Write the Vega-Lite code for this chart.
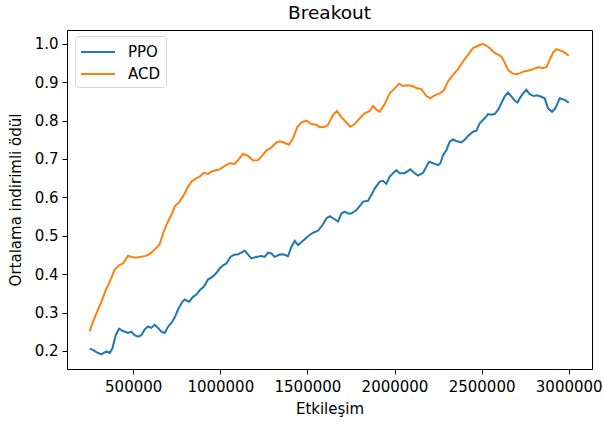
{
  "$schema": "https://vega.github.io/schema/vega-lite/v6.json",
  "width": 525,
  "height": 339,
  "autosize": "none",
  "padding": {"left": 67, "top": 30, "right": 11, "bottom": 56},
  "background": "white",
  "title": {"text": "Breakout", "fontSize": 18.5, "font": "DejaVu Sans", "fontWeight": "normal", "color": "black", "offset": 8},
  "config": {
    "font": "DejaVu Sans",
    "view": {"stroke": "black", "strokeWidth": 1},
    "axis": {"domainColor": "black", "tickColor": "black", "labelColor": "black", "titleColor": "black", "labelFontSize": 15, "titleFontSize": 15, "titleFontWeight": "normal", "tickSize": 5, "grid": false}
  },
  "datasets": {
    "series": [
      {"step": 250000, "reward": 0.206, "method": "PPO"},
      {"step": 269000, "reward": 0.203, "method": "PPO"},
      {"step": 288500, "reward": 0.197, "method": "PPO"},
      {"step": 317300, "reward": 0.191, "method": "PPO"},
      {"step": 346000, "reward": 0.199, "method": "PPO"},
      {"step": 365100, "reward": 0.195, "method": "PPO"},
      {"step": 380400, "reward": 0.206, "method": "PPO"},
      {"step": 399500, "reward": 0.241, "method": "PPO"},
      {"step": 418700, "reward": 0.258, "method": "PPO"},
      {"step": 441600, "reward": 0.252, "method": "PPO"},
      {"step": 470300, "reward": 0.247, "method": "PPO"},
      {"step": 489500, "reward": 0.25, "method": "PPO"},
      {"step": 508600, "reward": 0.241, "method": "PPO"},
      {"step": 527700, "reward": 0.237, "method": "PPO"},
      {"step": 546900, "reward": 0.241, "method": "PPO"},
      {"step": 566000, "reward": 0.256, "method": "PPO"},
      {"step": 585200, "reward": 0.264, "method": "PPO"},
      {"step": 604300, "reward": 0.26, "method": "PPO"},
      {"step": 623400, "reward": 0.268, "method": "PPO"},
      {"step": 642600, "reward": 0.26, "method": "PPO"},
      {"step": 661700, "reward": 0.25, "method": "PPO"},
      {"step": 680800, "reward": 0.247, "method": "PPO"},
      {"step": 700000, "reward": 0.263, "method": "PPO"},
      {"step": 719100, "reward": 0.273, "method": "PPO"},
      {"step": 738200, "reward": 0.287, "method": "PPO"},
      {"step": 757400, "reward": 0.308, "method": "PPO"},
      {"step": 782200, "reward": 0.328, "method": "PPO"},
      {"step": 795600, "reward": 0.334, "method": "PPO"},
      {"step": 820500, "reward": 0.328, "method": "PPO"},
      {"step": 843500, "reward": 0.341, "method": "PPO"},
      {"step": 862600, "reward": 0.347, "method": "PPO"},
      {"step": 881700, "reward": 0.358, "method": "PPO"},
      {"step": 904700, "reward": 0.367, "method": "PPO"},
      {"step": 929600, "reward": 0.386, "method": "PPO"},
      {"step": 954400, "reward": 0.393, "method": "PPO"},
      {"step": 977400, "reward": 0.403, "method": "PPO"},
      {"step": 996600, "reward": 0.415, "method": "PPO"},
      {"step": 1015700, "reward": 0.423, "method": "PPO"},
      {"step": 1034800, "reward": 0.428, "method": "PPO"},
      {"step": 1057800, "reward": 0.445, "method": "PPO"},
      {"step": 1076900, "reward": 0.45, "method": "PPO"},
      {"step": 1101800, "reward": 0.452, "method": "PPO"},
      {"step": 1120900, "reward": 0.456, "method": "PPO"},
      {"step": 1140000, "reward": 0.461, "method": "PPO"},
      {"step": 1153500, "reward": 0.454, "method": "PPO"},
      {"step": 1178300, "reward": 0.441, "method": "PPO"},
      {"step": 1207000, "reward": 0.445, "method": "PPO"},
      {"step": 1235700, "reward": 0.447, "method": "PPO"},
      {"step": 1254900, "reward": 0.445, "method": "PPO"},
      {"step": 1274000, "reward": 0.456, "method": "PPO"},
      {"step": 1293100, "reward": 0.454, "method": "PPO"},
      {"step": 1312300, "reward": 0.445, "method": "PPO"},
      {"step": 1341000, "reward": 0.451, "method": "PPO"},
      {"step": 1360100, "reward": 0.452, "method": "PPO"},
      {"step": 1388800, "reward": 0.447, "method": "PPO"},
      {"step": 1407900, "reward": 0.471, "method": "PPO"},
      {"step": 1427100, "reward": 0.487, "method": "PPO"},
      {"step": 1446200, "reward": 0.476, "method": "PPO"},
      {"step": 1474900, "reward": 0.487, "method": "PPO"},
      {"step": 1503600, "reward": 0.499, "method": "PPO"},
      {"step": 1532300, "reward": 0.508, "method": "PPO"},
      {"step": 1561000, "reward": 0.513, "method": "PPO"},
      {"step": 1589700, "reward": 0.53, "method": "PPO"},
      {"step": 1608900, "reward": 0.545, "method": "PPO"},
      {"step": 1628000, "reward": 0.551, "method": "PPO"},
      {"step": 1656700, "reward": 0.543, "method": "PPO"},
      {"step": 1675800, "reward": 0.537, "method": "PPO"},
      {"step": 1695000, "reward": 0.558, "method": "PPO"},
      {"step": 1714100, "reward": 0.563, "method": "PPO"},
      {"step": 1733200, "reward": 0.558, "method": "PPO"},
      {"step": 1752400, "reward": 0.558, "method": "PPO"},
      {"step": 1781100, "reward": 0.567, "method": "PPO"},
      {"step": 1800200, "reward": 0.577, "method": "PPO"},
      {"step": 1819400, "reward": 0.589, "method": "PPO"},
      {"step": 1848100, "reward": 0.591, "method": "PPO"},
      {"step": 1867200, "reward": 0.606, "method": "PPO"},
      {"step": 1886300, "reward": 0.623, "method": "PPO"},
      {"step": 1915000, "reward": 0.641, "method": "PPO"},
      {"step": 1934200, "reward": 0.643, "method": "PPO"},
      {"step": 1953300, "reward": 0.635, "method": "PPO"},
      {"step": 1972400, "reward": 0.654, "method": "PPO"},
      {"step": 1991600, "reward": 0.663, "method": "PPO"},
      {"step": 2010700, "reward": 0.671, "method": "PPO"},
      {"step": 2029800, "reward": 0.663, "method": "PPO"},
      {"step": 2058500, "reward": 0.663, "method": "PPO"},
      {"step": 2071900, "reward": 0.667, "method": "PPO"},
      {"step": 2091100, "reward": 0.673, "method": "PPO"},
      {"step": 2115900, "reward": 0.663, "method": "PPO"},
      {"step": 2135100, "reward": 0.657, "method": "PPO"},
      {"step": 2163800, "reward": 0.664, "method": "PPO"},
      {"step": 2182900, "reward": 0.68, "method": "PPO"},
      {"step": 2198200, "reward": 0.693, "method": "PPO"},
      {"step": 2221200, "reward": 0.689, "method": "PPO"},
      {"step": 2249900, "reward": 0.684, "method": "PPO"},
      {"step": 2263300, "reward": 0.689, "method": "PPO"},
      {"step": 2278600, "reward": 0.71, "method": "PPO"},
      {"step": 2297700, "reward": 0.723, "method": "PPO"},
      {"step": 2316900, "reward": 0.745, "method": "PPO"},
      {"step": 2336000, "reward": 0.751, "method": "PPO"},
      {"step": 2355100, "reward": 0.747, "method": "PPO"},
      {"step": 2383800, "reward": 0.743, "method": "PPO"},
      {"step": 2403000, "reward": 0.75, "method": "PPO"},
      {"step": 2422100, "reward": 0.76, "method": "PPO"},
      {"step": 2450800, "reward": 0.771, "method": "PPO"},
      {"step": 2469900, "reward": 0.774, "method": "PPO"},
      {"step": 2489100, "reward": 0.793, "method": "PPO"},
      {"step": 2517800, "reward": 0.806, "method": "PPO"},
      {"step": 2536900, "reward": 0.817, "method": "PPO"},
      {"step": 2556000, "reward": 0.815, "method": "PPO"},
      {"step": 2575200, "reward": 0.817, "method": "PPO"},
      {"step": 2594300, "reward": 0.828, "method": "PPO"},
      {"step": 2613400, "reward": 0.845, "method": "PPO"},
      {"step": 2632600, "reward": 0.863, "method": "PPO"},
      {"step": 2651700, "reward": 0.873, "method": "PPO"},
      {"step": 2670900, "reward": 0.863, "method": "PPO"},
      {"step": 2690000, "reward": 0.852, "method": "PPO"},
      {"step": 2705300, "reward": 0.847, "method": "PPO"},
      {"step": 2718700, "reward": 0.858, "method": "PPO"},
      {"step": 2737800, "reward": 0.871, "method": "PPO"},
      {"step": 2757000, "reward": 0.88, "method": "PPO"},
      {"step": 2776100, "reward": 0.869, "method": "PPO"},
      {"step": 2799100, "reward": 0.864, "method": "PPO"},
      {"step": 2818200, "reward": 0.866, "method": "PPO"},
      {"step": 2843100, "reward": 0.862, "method": "PPO"},
      {"step": 2862200, "reward": 0.858, "method": "PPO"},
      {"step": 2881400, "reward": 0.832, "method": "PPO"},
      {"step": 2904300, "reward": 0.823, "method": "PPO"},
      {"step": 2923500, "reward": 0.832, "method": "PPO"},
      {"step": 2948300, "reward": 0.858, "method": "PPO"},
      {"step": 2977000, "reward": 0.854, "method": "PPO"},
      {"step": 3000000, "reward": 0.847, "method": "PPO"},
      {"step": 250000, "reward": 0.251, "method": "ACD"},
      {"step": 269400, "reward": 0.276, "method": "ACD"},
      {"step": 292400, "reward": 0.302, "method": "ACD"},
      {"step": 317300, "reward": 0.328, "method": "ACD"},
      {"step": 342100, "reward": 0.358, "method": "ACD"},
      {"step": 365100, "reward": 0.38, "method": "ACD"},
      {"step": 393800, "reward": 0.412, "method": "ACD"},
      {"step": 418700, "reward": 0.423, "method": "ACD"},
      {"step": 441600, "reward": 0.428, "method": "ACD"},
      {"step": 470300, "reward": 0.448, "method": "ACD"},
      {"step": 489500, "reward": 0.445, "method": "ACD"},
      {"step": 518200, "reward": 0.443, "method": "ACD"},
      {"step": 537300, "reward": 0.445, "method": "ACD"},
      {"step": 566000, "reward": 0.447, "method": "ACD"},
      {"step": 585200, "reward": 0.45, "method": "ACD"},
      {"step": 604300, "reward": 0.456, "method": "ACD"},
      {"step": 623400, "reward": 0.464, "method": "ACD"},
      {"step": 652100, "reward": 0.478, "method": "ACD"},
      {"step": 671300, "reward": 0.506, "method": "ACD"},
      {"step": 694200, "reward": 0.532, "method": "ACD"},
      {"step": 719100, "reward": 0.554, "method": "ACD"},
      {"step": 738200, "reward": 0.576, "method": "ACD"},
      {"step": 766900, "reward": 0.589, "method": "ACD"},
      {"step": 795600, "reward": 0.61, "method": "ACD"},
      {"step": 814800, "reward": 0.628, "method": "ACD"},
      {"step": 833900, "reward": 0.641, "method": "ACD"},
      {"step": 862600, "reward": 0.65, "method": "ACD"},
      {"step": 881700, "reward": 0.654, "method": "ACD"},
      {"step": 904700, "reward": 0.664, "method": "ACD"},
      {"step": 929600, "reward": 0.661, "method": "ACD"},
      {"step": 948700, "reward": 0.667, "method": "ACD"},
      {"step": 967900, "reward": 0.67, "method": "ACD"},
      {"step": 996600, "reward": 0.673, "method": "ACD"},
      {"step": 1025300, "reward": 0.682, "method": "ACD"},
      {"step": 1054000, "reward": 0.689, "method": "ACD"},
      {"step": 1082700, "reward": 0.687, "method": "ACD"},
      {"step": 1101800, "reward": 0.697, "method": "ACD"},
      {"step": 1130500, "reward": 0.713, "method": "ACD"},
      {"step": 1159200, "reward": 0.708, "method": "ACD"},
      {"step": 1187900, "reward": 0.696, "method": "ACD"},
      {"step": 1216600, "reward": 0.697, "method": "ACD"},
      {"step": 1235700, "reward": 0.706, "method": "ACD"},
      {"step": 1264400, "reward": 0.722, "method": "ACD"},
      {"step": 1293100, "reward": 0.73, "method": "ACD"},
      {"step": 1321800, "reward": 0.743, "method": "ACD"},
      {"step": 1341000, "reward": 0.746, "method": "ACD"},
      {"step": 1363900, "reward": 0.743, "method": "ACD"},
      {"step": 1394500, "reward": 0.737, "method": "ACD"},
      {"step": 1417500, "reward": 0.754, "method": "ACD"},
      {"step": 1442400, "reward": 0.784, "method": "ACD"},
      {"step": 1465400, "reward": 0.795, "method": "ACD"},
      {"step": 1494100, "reward": 0.8, "method": "ACD"},
      {"step": 1522800, "reward": 0.791, "method": "ACD"},
      {"step": 1551500, "reward": 0.789, "method": "ACD"},
      {"step": 1570600, "reward": 0.783, "method": "ACD"},
      {"step": 1599300, "reward": 0.784, "method": "ACD"},
      {"step": 1618400, "reward": 0.789, "method": "ACD"},
      {"step": 1647100, "reward": 0.815, "method": "ACD"},
      {"step": 1670100, "reward": 0.825, "method": "ACD"},
      {"step": 1695000, "reward": 0.809, "method": "ACD"},
      {"step": 1723700, "reward": 0.795, "method": "ACD"},
      {"step": 1746600, "reward": 0.784, "method": "ACD"},
      {"step": 1771500, "reward": 0.791, "method": "ACD"},
      {"step": 1800200, "reward": 0.806, "method": "ACD"},
      {"step": 1828900, "reward": 0.819, "method": "ACD"},
      {"step": 1857600, "reward": 0.825, "method": "ACD"},
      {"step": 1876800, "reward": 0.838, "method": "ACD"},
      {"step": 1895900, "reward": 0.829, "method": "ACD"},
      {"step": 1915000, "reward": 0.823, "method": "ACD"},
      {"step": 1943700, "reward": 0.843, "method": "ACD"},
      {"step": 1972400, "reward": 0.871, "method": "ACD"},
      {"step": 2001100, "reward": 0.884, "method": "ACD"},
      {"step": 2026000, "reward": 0.896, "method": "ACD"},
      {"step": 2049000, "reward": 0.89, "method": "ACD"},
      {"step": 2071900, "reward": 0.892, "method": "ACD"},
      {"step": 2102500, "reward": 0.89, "method": "ACD"},
      {"step": 2129400, "reward": 0.884, "method": "ACD"},
      {"step": 2154200, "reward": 0.882, "method": "ACD"},
      {"step": 2182900, "reward": 0.864, "method": "ACD"},
      {"step": 2205900, "reward": 0.858, "method": "ACD"},
      {"step": 2230800, "reward": 0.866, "method": "ACD"},
      {"step": 2259500, "reward": 0.871, "method": "ACD"},
      {"step": 2282500, "reward": 0.878, "method": "ACD"},
      {"step": 2307300, "reward": 0.902, "method": "ACD"},
      {"step": 2336000, "reward": 0.919, "method": "ACD"},
      {"step": 2364700, "reward": 0.934, "method": "ACD"},
      {"step": 2393400, "reward": 0.954, "method": "ACD"},
      {"step": 2422100, "reward": 0.971, "method": "ACD"},
      {"step": 2450800, "reward": 0.989, "method": "ACD"},
      {"step": 2469900, "reward": 0.993, "method": "ACD"},
      {"step": 2489100, "reward": 0.997, "method": "ACD"},
      {"step": 2508200, "reward": 1.0, "method": "ACD"},
      {"step": 2527400, "reward": 0.995, "method": "ACD"},
      {"step": 2546500, "reward": 0.989, "method": "ACD"},
      {"step": 2565600, "reward": 0.98, "method": "ACD"},
      {"step": 2584800, "reward": 0.974, "method": "ACD"},
      {"step": 2613400, "reward": 0.967, "method": "ACD"},
      {"step": 2632600, "reward": 0.951, "method": "ACD"},
      {"step": 2651700, "reward": 0.932, "method": "ACD"},
      {"step": 2676600, "reward": 0.923, "method": "ACD"},
      {"step": 2699600, "reward": 0.921, "method": "ACD"},
      {"step": 2718700, "reward": 0.923, "method": "ACD"},
      {"step": 2741700, "reward": 0.928, "method": "ACD"},
      {"step": 2766500, "reward": 0.93, "method": "ACD"},
      {"step": 2795200, "reward": 0.934, "method": "ACD"},
      {"step": 2823900, "reward": 0.939, "method": "ACD"},
      {"step": 2852600, "reward": 0.937, "method": "ACD"},
      {"step": 2871800, "reward": 0.939, "method": "ACD"},
      {"step": 2890900, "reward": 0.958, "method": "ACD"},
      {"step": 2910000, "reward": 0.977, "method": "ACD"},
      {"step": 2929200, "reward": 0.986, "method": "ACD"},
      {"step": 2948300, "reward": 0.983, "method": "ACD"},
      {"step": 2967500, "reward": 0.98, "method": "ACD"},
      {"step": 2986600, "reward": 0.974, "method": "ACD"},
      {"step": 3000000, "reward": 0.969, "method": "ACD"}
    ]
  },
  "data": {"name": "series"},
  "mark": {"type": "line", "strokeWidth": 2, "interpolate": "linear", "clip": true},
  "encoding": {
    "x": {
      "field": "step", "type": "quantitative", "title": "Etkileşim",
      "scale": {"domain": [120000, 3133700], "nice": false, "zero": false},
      "axis": {"values": [500000, 1000000, 1500000, 2000000, 2500000, 3000000], "format": "d", "labelPadding": 5, "titlePadding": 7, "labelFlush": false}
    },
    "y": {
      "field": "reward", "type": "quantitative", "title": "Ortalama indirimli ödül",
      "scale": {"domain": [0.153, 1.036], "nice": false, "zero": false},
      "axis": {"values": [0.2, 0.3, 0.4, 0.5, 0.6, 0.7, 0.8, 0.9, 1.0], "format": ".1f", "labelPadding": 4, "titlePadding": 11, "labelFlush": false}
    },
    "color": {
      "field": "method", "type": "nominal", "title": null,
      "scale": {"domain": ["PPO", "ACD"], "range": ["#1f77b4", "#ff7f0e"]},
      "legend": {
        "orient": "none", "legendX": 8, "legendY": 6,
        "symbolType": "M-1,0H2.4", "symbolStrokeWidth": 2, "symbolSize": 400,
        "labelFontSize": 15, "labelColor": "black", "labelOffset": 26,
        "strokeColor": "#d6d6d6", "fillColor": "white", "cornerRadius": 3, "padding": 5, "rowPadding": 3
      }
    }
  }
}
